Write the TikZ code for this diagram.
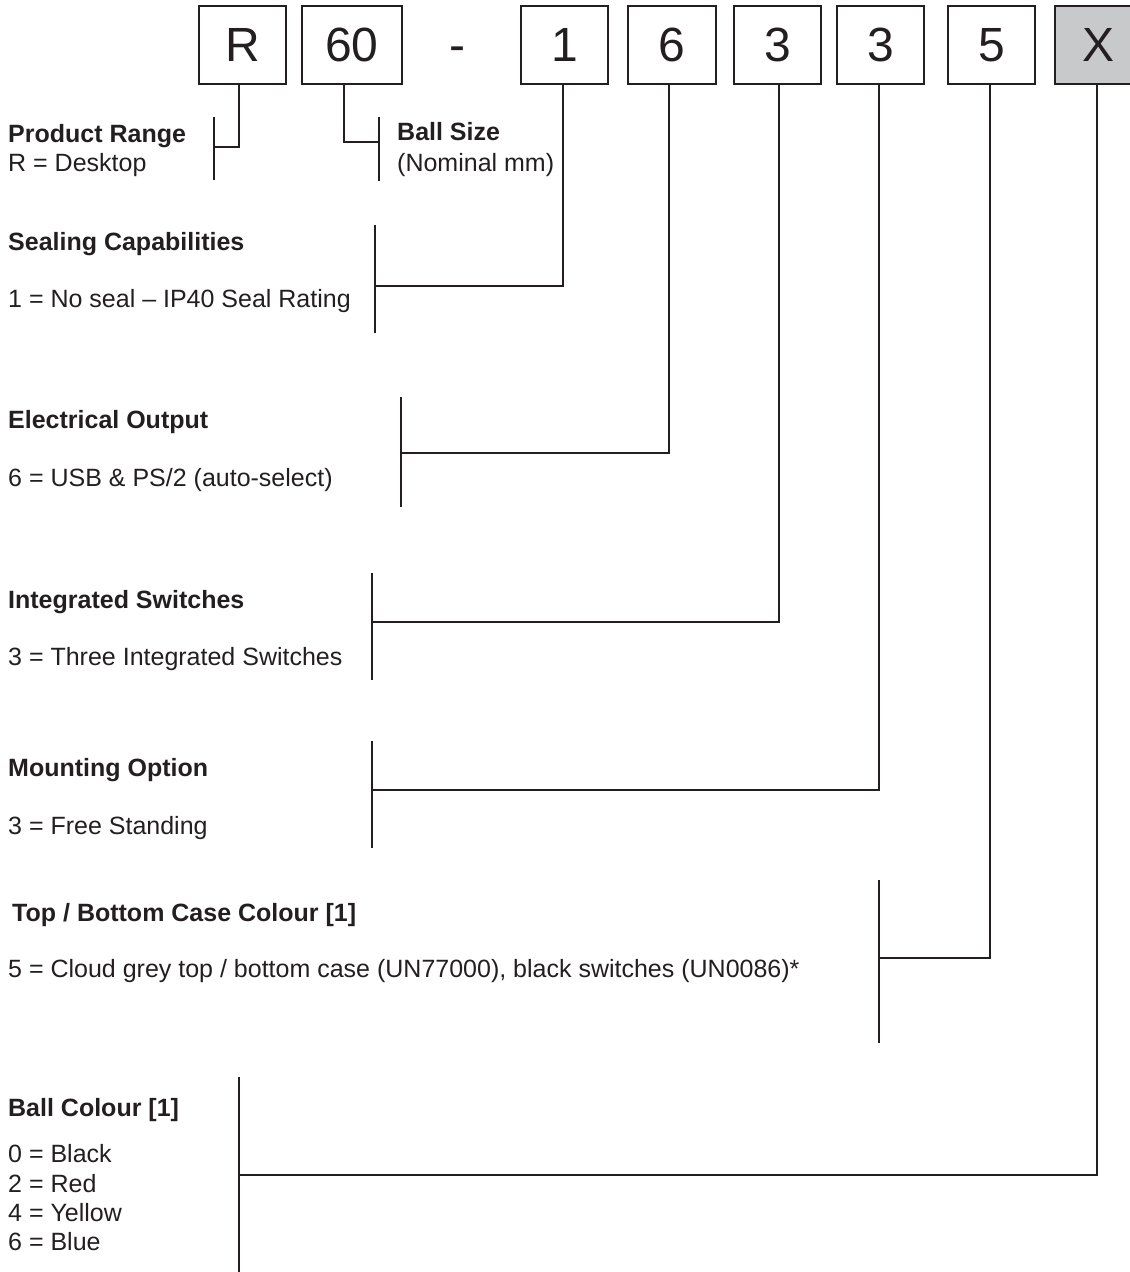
\documentclass[tikz,border=0pt]{standalone}
\usepackage{fontspec}
\setmainfont{Liberation Sans}
\definecolor{ink}{HTML}{231F20}
\definecolor{xfill}{HTML}{C8C9CB}
\begin{document}
\begin{tikzpicture}[x=1pt,y=-1pt,
  codebox/.style={draw=ink,line width=2pt,minimum height=78pt,inner sep=0pt,anchor=north west,text=ink,font=\fontsize{48}{50}\selectfont},
  lbl/.style={anchor=base west,inner sep=0pt,text=ink,font=\fontsize{25}{30}\selectfont},
  hdr/.style={lbl,font=\fontsize{25}{30}\selectfont\bfseries},
  ln/.style={draw=ink,line width=1.8pt}]
\useasboundingbox (0,0) rectangle (1130,1272);
\clip (0,0) rectangle (1130,1272);
% code boxes
\node[codebox,minimum width=87pt] (bR) at (198,5) {R};
\node[codebox,minimum width=100pt] (b60) at (301,5) {60};
\node[anchor=base,inner sep=0pt,text=ink,font=\fontsize{48}{50}\selectfont] (dash) at (457,61) {-};
\node[codebox,minimum width=87pt] (b1) at (520,5) {1};
\node[codebox,minimum width=88pt] (b6) at (627,5) {6};
\node[codebox,minimum width=87pt] (b3a) at (733,5) {3};
\node[codebox,minimum width=87pt] (b3b) at (836,5) {3};
\node[codebox,minimum width=87pt] (b5) at (947,5) {5};
\node[codebox,minimum width=87pt,fill=xfill] (bX) at (1054,5) {X};
% labels
\node[hdr] (tR) at (8,142) {Product Range};
\node[lbl] (vR) at (8,171) {R = Desktop};
\node[hdr] (t60) at (397,140) {Ball Size};
\node[lbl] (v60) at (397,171) {(Nominal mm)};
\node[hdr] (t1) at (8,250) {Sealing Capabilities};
\node[lbl] (v1) at (8,307) {1 = No seal -- IP40 Seal Rating};
\node[hdr] (t6) at (8,428) {Electrical Output};
\node[lbl] (v6) at (8,486) {6 = USB \& PS/2 (auto-select)};
\node[hdr] (t3a) at (8,608) {Integrated Switches};
\node[lbl] (v3a) at (8,665) {3 = Three Integrated Switches};
\node[hdr] (t3b) at (8,776) {Mounting Option};
\node[lbl] (v3b) at (8,834) {3 = Free Standing};
\node[hdr] (t5) at (12,921) {Top / Bottom Case Colour [1]};
\node[lbl] (v5) at (8,977) {5 = Cloud grey top / bottom case (UN77000), black switches (UN0086)*};
\node[hdr] (tX) at (8,1116) {Ball Colour [1]};
\node[lbl] (vXa) at (8,1162) {0 = Black};
\node[lbl] (vXb) at (8,1192) {2 = Red};
\node[lbl] (vXc) at (8,1221) {4 = Yellow};
\node[lbl] (vXd) at (8,1250) {6 = Blue};
% junction coordinates and bars
\coordinate (jR) at (239,147);   \coordinate (kR) at (214,147);
\coordinate (sR1) at (214,117);  \coordinate (sR2) at (214,180);
\coordinate (j60) at (344,142);  \coordinate (k60) at (379,142);
\coordinate (s601) at (379,117); \coordinate (s602) at (379,181);
\coordinate (j1) at (563,286);   \coordinate (k1) at (375,286);
\coordinate (s11) at (375,225);  \coordinate (s12) at (375,333);
\coordinate (j6) at (669,453);   \coordinate (k6) at (401,453);
\coordinate (s61) at (401,397);  \coordinate (s62) at (401,507);
\coordinate (j3a) at (779,622);  \coordinate (k3a) at (372,622);
\coordinate (s3a1) at (372,573); \coordinate (s3a2) at (372,680);
\coordinate (j3b) at (879,790);  \coordinate (k3b) at (372,790);
\coordinate (s3b1) at (372,741); \coordinate (s3b2) at (372,848);
\coordinate (j5) at (990,958);   \coordinate (k5) at (879,958);
\coordinate (s51) at (879,880);  \coordinate (s52) at (879,1043);
\coordinate (jX) at (1097,1175); \coordinate (kX) at (239,1175);
\coordinate (sX1) at (239,1077); \coordinate (sX2) at (239,1272);
% connectors
\draw[ln] (bR.south -| jR) -- (jR) -- (kR);   \draw[ln] (sR1) -- (sR2);
\draw[ln] (b60.south -| j60) -- (j60) -- (k60); \draw[ln] (s601) -- (s602);
\draw[ln] (b1.south -| j1) -- (j1) -- (k1);   \draw[ln] (s11) -- (s12);
\draw[ln] (b6.south -| j6) -- (j6) -- (k6);   \draw[ln] (s61) -- (s62);
\draw[ln] (b3a.south -| j3a) -- (j3a) -- (k3a); \draw[ln] (s3a1) -- (s3a2);
\draw[ln] (b3b.south -| j3b) -- (j3b) -- (k3b); \draw[ln] (s3b1) -- (s3b2);
\draw[ln] (b5.south -| j5) -- (j5) -- (k5);   \draw[ln] (s51) -- (s52);
\draw[ln] (bX.south -| jX) -- (jX) -- (kX);   \draw[ln] (sX1) -- (sX2);
\end{tikzpicture}
\end{document}
